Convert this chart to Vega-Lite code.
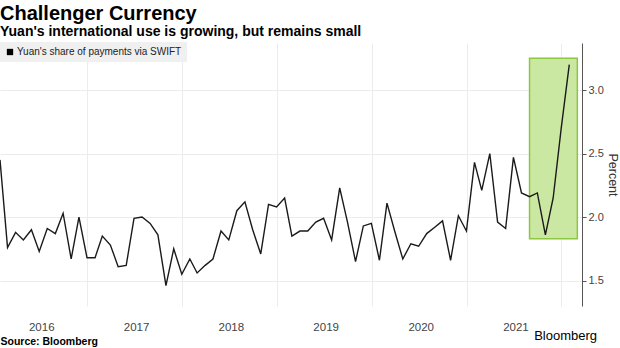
{
  "$schema": "https://vega.github.io/schema/vega-lite/v6.json",
  "width": 582,
  "height": 263,
  "autosize": "none",
  "padding": {"left": 0, "top": 43, "right": 38, "bottom": 42},
  "background": "white",
  "title": {
    "text": "Challenger Currency",
    "subtitle": "Yuan's international use is growing, but remains small",
    "anchor": "start",
    "frame": "group",
    "font": "Liberation Sans",
    "fontSize": 20,
    "fontWeight": "bold",
    "color": "#000000",
    "subtitleFont": "Liberation Sans",
    "subtitleFontSize": 14,
    "subtitleFontWeight": "bold",
    "subtitleColor": "#000000",
    "subtitlePadding": 1,
    "offset": 3
  },
  "config": {
    "view": {"stroke": null},
    "font": "Liberation Sans"
  },
  "layer": [
    {
      "data": {"values": [{"x": "2021-08-31", "x2": "2022-03-03", "y": 1.83, "y2": 3.25}]},
      "mark": {"type": "rect", "fill": "#cbe8a2", "stroke": "#8dc640", "strokeWidth": 1.5},
      "encoding": {
        "x": {"field": "x", "type": "temporal"},
        "x2": {"field": "x2"},
        "y": {"field": "y", "type": "quantitative"},
        "y2": {"field": "y2"}
      }
    },
    {
      "data": {"values": [
        {"date": "2016-01-31", "v": 2.45}, {"date": "2016-02-29", "v": 1.76}, {"date": "2016-03-31", "v": 1.88},
        {"date": "2016-04-30", "v": 1.82}, {"date": "2016-05-31", "v": 1.90}, {"date": "2016-06-30", "v": 1.73},
        {"date": "2016-07-31", "v": 1.91}, {"date": "2016-08-31", "v": 1.87}, {"date": "2016-09-30", "v": 2.03},
        {"date": "2016-10-31", "v": 1.67}, {"date": "2016-11-30", "v": 2.00}, {"date": "2016-12-31", "v": 1.68},
        {"date": "2017-01-31", "v": 1.68}, {"date": "2017-02-28", "v": 1.85}, {"date": "2017-03-31", "v": 1.78},
        {"date": "2017-04-30", "v": 1.61}, {"date": "2017-05-31", "v": 1.62}, {"date": "2017-06-30", "v": 1.99},
        {"date": "2017-07-31", "v": 2.00}, {"date": "2017-08-31", "v": 1.95}, {"date": "2017-09-30", "v": 1.86},
        {"date": "2017-10-31", "v": 1.46}, {"date": "2017-11-30", "v": 1.75}, {"date": "2017-12-31", "v": 1.55},
        {"date": "2018-01-31", "v": 1.67}, {"date": "2018-02-28", "v": 1.56}, {"date": "2018-03-31", "v": 1.62},
        {"date": "2018-04-30", "v": 1.67}, {"date": "2018-05-31", "v": 1.89}, {"date": "2018-06-30", "v": 1.82},
        {"date": "2018-07-31", "v": 2.05}, {"date": "2018-08-31", "v": 2.12}, {"date": "2018-09-30", "v": 1.90},
        {"date": "2018-10-31", "v": 1.71}, {"date": "2018-11-30", "v": 2.10}, {"date": "2018-12-31", "v": 2.08},
        {"date": "2019-01-31", "v": 2.15}, {"date": "2019-02-28", "v": 1.85}, {"date": "2019-03-31", "v": 1.89},
        {"date": "2019-04-30", "v": 1.89}, {"date": "2019-05-31", "v": 1.96}, {"date": "2019-06-30", "v": 1.99},
        {"date": "2019-07-31", "v": 1.82}, {"date": "2019-08-31", "v": 2.23}, {"date": "2019-09-30", "v": 1.96},
        {"date": "2019-10-31", "v": 1.65}, {"date": "2019-11-30", "v": 1.93}, {"date": "2019-12-31", "v": 1.95},
        {"date": "2020-01-31", "v": 1.66}, {"date": "2020-02-29", "v": 2.11}, {"date": "2020-03-31", "v": 1.88},
        {"date": "2020-04-30", "v": 1.67}, {"date": "2020-05-31", "v": 1.79}, {"date": "2020-06-30", "v": 1.77},
        {"date": "2020-07-31", "v": 1.87}, {"date": "2020-08-31", "v": 1.92}, {"date": "2020-09-30", "v": 1.97},
        {"date": "2020-10-31", "v": 1.66}, {"date": "2020-11-30", "v": 2.01}, {"date": "2020-12-31", "v": 1.89},
        {"date": "2021-01-31", "v": 2.43}, {"date": "2021-02-28", "v": 2.21}, {"date": "2021-03-31", "v": 2.50},
        {"date": "2021-04-30", "v": 1.96}, {"date": "2021-05-31", "v": 1.91}, {"date": "2021-06-30", "v": 2.47},
        {"date": "2021-07-31", "v": 2.19}, {"date": "2021-08-31", "v": 2.16}, {"date": "2021-09-30", "v": 2.19},
        {"date": "2021-10-31", "v": 1.86}, {"date": "2021-11-30", "v": 2.15}, {"date": "2021-12-31", "v": 2.70},
        {"date": "2022-01-31", "v": 3.20}
      ]},
      "transform": [{"calculate": "'Yuan\\'s share of payments via SWIFT'", "as": "series"}],
      "mark": {"type": "line", "strokeWidth": 1.4},
      "encoding": {
        "x": {
          "field": "date",
          "type": "temporal",
          "scale": {"type": "utc", "domain": [{"year": 2016, "month": 1, "date": 31, "utc": true}, {"year": 2022, "month": 3, "date": 21, "utc": true}]},
          "axis": {
            "values": [
              {"year": 2017, "month": 1, "date": 1, "utc": true},
              {"year": 2018, "month": 1, "date": 1, "utc": true},
              {"year": 2019, "month": 1, "date": 1, "utc": true},
              {"year": 2020, "month": 1, "date": 1, "utc": true},
              {"year": 2021, "month": 1, "date": 1, "utc": true},
              {"year": 2022, "month": 1, "date": 1, "utc": true}
            ],
            "labelExpr": "toString(utcyear(datum.value) - 1)",
            "labelOffset": -46,
            "labelFontSize": 11.5,
            "labelColor": "#444444",
            "labelPadding": 15,
            "ticks": false,
            "domain": false,
            "grid": true,
            "gridColor": "#ececec",
            "gridWidth": 1,
            "title": "Source: Bloomberg",
            "titleAnchor": "start",
            "titleFontSize": 10.5,
            "titleFontWeight": "bold",
            "titleColor": "#000000",
            "titlePadding": 4
          }
        },
        "y": {
          "field": "v",
          "type": "quantitative",
          "scale": {"domain": [1.3, 3.37], "zero": false, "nice": false},
          "axis": {
            "orient": "right",
            "values": [1.5, 1.75, 2, 2.25, 2.5, 2.75, 3, 3.25],
            "labelExpr": "datum.value % 0.5 == 0 ? format(datum.value, '.1f') : ''",
            "labelFontSize": 11,
            "labelColor": "#444444",
            "labelPadding": 2,
            "domain": true,
            "domainColor": "#555555",
            "tickColor": "#555555",
            "tickSize": {"condition": {"test": "datum.value % 0.5 == 0", "value": 4}, "value": -3},
            "grid": true,
            "gridColor": "#ececec",
            "gridOpacity": {"condition": {"test": "datum.value % 0.5 == 0", "value": 1}, "value": 0},
            "title": "Percent",
            "titleFontSize": 12.5,
            "titleFontWeight": "normal",
            "titleColor": "#333333",
            "titlePadding": 2
          }
        },
        "color": {
          "field": "series",
          "type": "nominal",
          "scale": {"range": ["#1a1a1a"]},
          "legend": {
            "orient": "none",
            "legendX": 0,
            "legendY": -1,
            "title": null,
            "fillColor": "#f0f0f0",
            "padding": 5,
            "symbolType": "square",
            "symbolSize": 40,
            "symbolFillColor": "#000000",
            "symbolStrokeWidth": 0,
            "labelFontSize": 10,
            "labelLimit": 300,
            "labelColor": "#222222",
            "labelOffset": 2
          }
        }
      }
    },
    {
      "data": {"values": [{"label": "Bloomberg", "x": "2022-03-21", "y": 1.3}]},
      "mark": {"type": "text", "align": "right", "baseline": "top", "dy": 24, "dx": 15, "fontSize": 13, "fontWeight": 500, "color": "#000000"},
      "encoding": {
        "x": {"field": "x", "type": "temporal"},
        "y": {"field": "y", "type": "quantitative"},
        "text": {"field": "label"}
      }
    }
  ]
}
